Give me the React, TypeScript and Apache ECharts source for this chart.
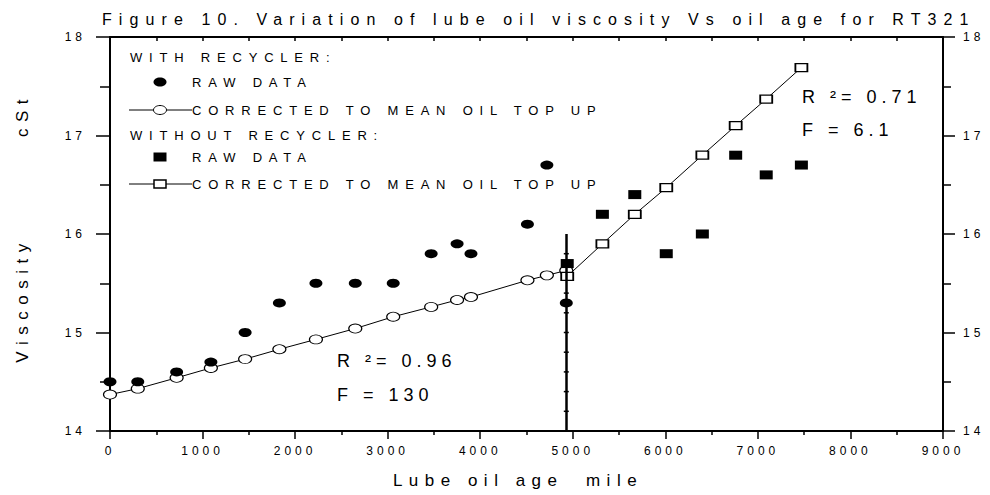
import React, { useEffect, useRef } from "react";
import * as echarts from "echarts";

const FONT = "'Liberation Sans', Arial, Helvetica, sans-serif";

const titleText = "Figure 10. Variation of lube oil viscosity Vs oil age for RT321";
const xAxisName = "Lube oil age  mile";
const yAxisName1 = "Viscosity";
const yAxisName2 = "cSt";

// With recycler
const withX = [0, 300, 720, 1090, 1460, 1830, 2225, 2650, 3060, 3470, 3750, 3900, 4510, 4720, 4930];
const withRaw = [14.5, 14.5, 14.6, 14.7, 15.0, 15.3, 15.5, 15.5, 15.5, 15.8, 15.9, 15.8, 16.1, 16.7, 15.3];
const withCorr = [14.37, 14.43, 14.54, 14.64, 14.73, 14.83, 14.93, 15.04, 15.16, 15.26, 15.33, 15.36, 15.53, 15.58, 15.63];

// Without recycler
const withoutX = [4940, 5320, 5670, 6010, 6400, 6760, 7090, 7470];
const withoutRaw = [15.7, 16.2, 16.4, 15.8, 16.0, 16.8, 16.6, 16.7];
const withoutCorr = [15.57, 15.9, 16.2, 16.47, 16.8, 17.1, 17.37, 17.69];

// Vertical divider at the change-over point
const dividerX = 4930;
const dividerRange = [14, 16];
const dividerTicks = [14.2, 14.4, 14.6, 14.8, 15.0, 15.2, 15.4, 15.6, 15.8];

const legendHeaders = ["WITH RECYCLER:", "WITHOUT RECYCLER:"];
const legendRaw = "RAW DATA";
const legendCorr = "CORRECTED TO MEAN OIL TOP UP";

const statsWith = ["R \u00b2= 0.96", "F = 130"];
const statsWithout = ["R \u00b2= 0.71", "F = 6.1"];

const css = `
body { margin: 0; }
#root text[style*="16px"] { letter-spacing: 7.1px; }
#root text[style*="12px"] { letter-spacing: 4px; }
#root text[style*="13px"] { letter-spacing: 6.8px; }
#root text[style*="18px"] { letter-spacing: 5px; }
#root text[style*="17px"] { letter-spacing: 6.5px; }
`;

export default function App() {
  const ref = useRef<HTMLDivElement>(null);

  useEffect(() => {
    if (!ref.current) return;
    const chart = echarts.init(ref.current, null, { renderer: "svg" });

    const black = "#000";
    const xAxisCommon = {
      type: "value" as const,
      min: 0,
      max: 9000,
      interval: 1000,
      splitLine: { show: false },
      axisLine: { show: true, onZero: false, lineStyle: { color: black, width: 2 } },
    };
    const yAxisCommon = {
      type: "value" as const,
      min: 14,
      max: 18,
      interval: 1,
      splitLine: { show: false },
      axisLine: { show: true, onZero: false, lineStyle: { color: black, width: 2 } },
    };

    const txt = (x: number, y: number, text: string, size: number, align = "left", rotation = 0) => ({
      type: "text",
      x,
      y,
      rotation,
      style: {
        text,
        fill: black,
        font: `${size}px ${FONT}`,
        textAlign: align,
        textVerticalAlign: "middle",
      },
    });

    const lx0 = 129;
    const lx1 = 192;
    const lmx = 160;
    const rows = [57, 82, 110, 135, 157, 184];

    const graphic: any[] = [
      txt(102, 19.5, titleText, 16),
      txt(518, 480, xAxisName, 17, "center"),
      txt(22, 300, yAxisName1, 17, "center", Math.PI / 2),
      txt(22, 115, yAxisName2, 17, "center", Math.PI / 2),
      // legend
      txt(130, rows[0], legendHeaders[0], 13),
      { type: "ellipse", shape: { cx: lmx, cy: rows[1], rx: 6.5, ry: 4.5 }, style: { fill: black } },
      txt(lx1, rows[1], legendRaw, 13),
      { type: "line", shape: { x1: lx0, y1: rows[2], x2: lx1, y2: rows[2] }, style: { stroke: black, lineWidth: 1 } },
      { type: "ellipse", shape: { cx: lmx, cy: rows[2], rx: 6.5, ry: 4.5 }, style: { fill: "#fff", stroke: black, lineWidth: 1 } },
      txt(lx1, rows[2], legendCorr, 13),
      txt(130, rows[3], legendHeaders[1], 13),
      { type: "rect", shape: { x: lmx - 6.5, y: rows[4] - 4.5, width: 13, height: 9 }, style: { fill: black } },
      txt(lx1, rows[4], legendRaw, 13),
      { type: "line", shape: { x1: lx0, y1: rows[5], x2: lx1, y2: rows[5] }, style: { stroke: black, lineWidth: 1 } },
      { type: "rect", shape: { x: lmx - 6, y: rows[5] - 4, width: 12, height: 8 }, style: { fill: "#fff", stroke: black, lineWidth: 1.5 } },
      txt(lx1, rows[5], legendCorr, 13),
      // annotations
      txt(337, 361, statsWith[0], 18),
      txt(337, 395, statsWith[1], 18),
      txt(802, 97, statsWithout[0], 18),
      txt(802, 130, statsWithout[1], 18),
    ];

    const plainNum = (v: number) => String(v);

    const option: any = {
      animation: false,
      backgroundColor: "#fff",
      textStyle: { fontFamily: FONT },
      grid: { left: 110, right: 47, top: 37, bottom: 64, containLabel: false },
      xAxis: [
        {
          ...xAxisCommon,
          position: "bottom",
          axisTick: { show: true, inside: false, length: 8, lineStyle: { color: black, width: 1.5 } },
          minorTick: { show: true, splitNumber: 2, length: 4, lineStyle: { color: black, width: 1.5 } },
          axisLabel: { show: true, color: black, fontSize: 12, fontFamily: FONT, margin: 14, formatter: plainNum },
        },
        {
          ...xAxisCommon,
          position: "top",
          axisTick: { show: true, inside: true, length: 4, lineStyle: { color: black, width: 1.5 } },
          minorTick: { show: true, splitNumber: 2, length: 4, lineStyle: { color: black, width: 1.5 } },
          axisLabel: { show: false },
        },
      ],
      yAxis: [
        {
          ...yAxisCommon,
          position: "left",
          axisTick: { show: true, inside: false, length: 14, lineStyle: { color: black, width: 1.5 } },
          minorTick: { show: true, splitNumber: 2, length: 10, lineStyle: { color: black, width: 1.5 } },
          axisLabel: { show: true, color: black, fontSize: 12, fontFamily: FONT, margin: 24, formatter: plainNum },
        },
        {
          ...yAxisCommon,
          position: "right",
          axisTick: { show: true, inside: false, length: 12, lineStyle: { color: black, width: 1.5 } },
          minorTick: { show: true, splitNumber: 2, length: 8, lineStyle: { color: black, width: 1.5 } },
          axisLabel: { show: true, color: black, fontSize: 12, fontFamily: FONT, margin: 20, formatter: plainNum },
        },
      ],
      series: [
        {
          name: "divider",
          type: "scatter",
          xAxisIndex: 0,
          yAxisIndex: 0,
          symbol: "rect",
          symbolSize: [5, 1.5],
          itemStyle: { color: black, opacity: 1 },
          data: dividerTicks.map((v) => [dividerX, v]),
          silent: true,
          z: 1,
          markLine: {
            silent: true,
            symbol: ["none", "none"],
            label: { show: false },
            lineStyle: { color: black, width: 2.5, type: "solid", opacity: 1 },
            data: [[{ coord: [dividerX, dividerRange[0]] }, { coord: [dividerX, dividerRange[1]] }]],
          },
        },
        {
          name: "With recycler corrected",
          type: "line",
          xAxisIndex: 0,
          yAxisIndex: 0,
          symbol: "circle",
          symbolSize: [13, 9],
          showAllSymbol: true,
          lineStyle: { color: black, width: 1 },
          itemStyle: { color: "#fff", borderColor: black, borderWidth: 1, opacity: 1 },
          data: withX.map((x, i) => [x, withCorr[i]]),
          z: 2,
        },
        {
          name: "Without recycler corrected",
          type: "line",
          xAxisIndex: 0,
          yAxisIndex: 0,
          symbol: "rect",
          symbolSize: [12, 8],
          showAllSymbol: true,
          lineStyle: { color: black, width: 1 },
          itemStyle: { color: "#fff", borderColor: black, borderWidth: 1.5, opacity: 1 },
          data: withoutX.map((x, i) => [x, withoutCorr[i]]),
          z: 2,
        },
        {
          name: "With recycler raw",
          type: "scatter",
          xAxisIndex: 0,
          yAxisIndex: 0,
          symbol: "circle",
          symbolSize: [13, 9],
          itemStyle: { color: black, opacity: 1 },
          data: withX.map((x, i) => [x, withRaw[i]]),
          z: 3,
        },
        {
          name: "Without recycler raw",
          type: "scatter",
          xAxisIndex: 0,
          yAxisIndex: 0,
          symbol: "rect",
          symbolSize: [13, 9],
          itemStyle: { color: black, opacity: 1 },
          data: withoutX.map((x, i) => [x, withoutRaw[i]]),
          z: 3,
        },
      ],
      graphic,
    };

    chart.setOption(option);
    return () => chart.dispose();
  }, []);

  return (
    <>
      <style>{css}</style>
      <div ref={ref} style={{ width: 990, height: 495 }} />
    </>
  );
}
